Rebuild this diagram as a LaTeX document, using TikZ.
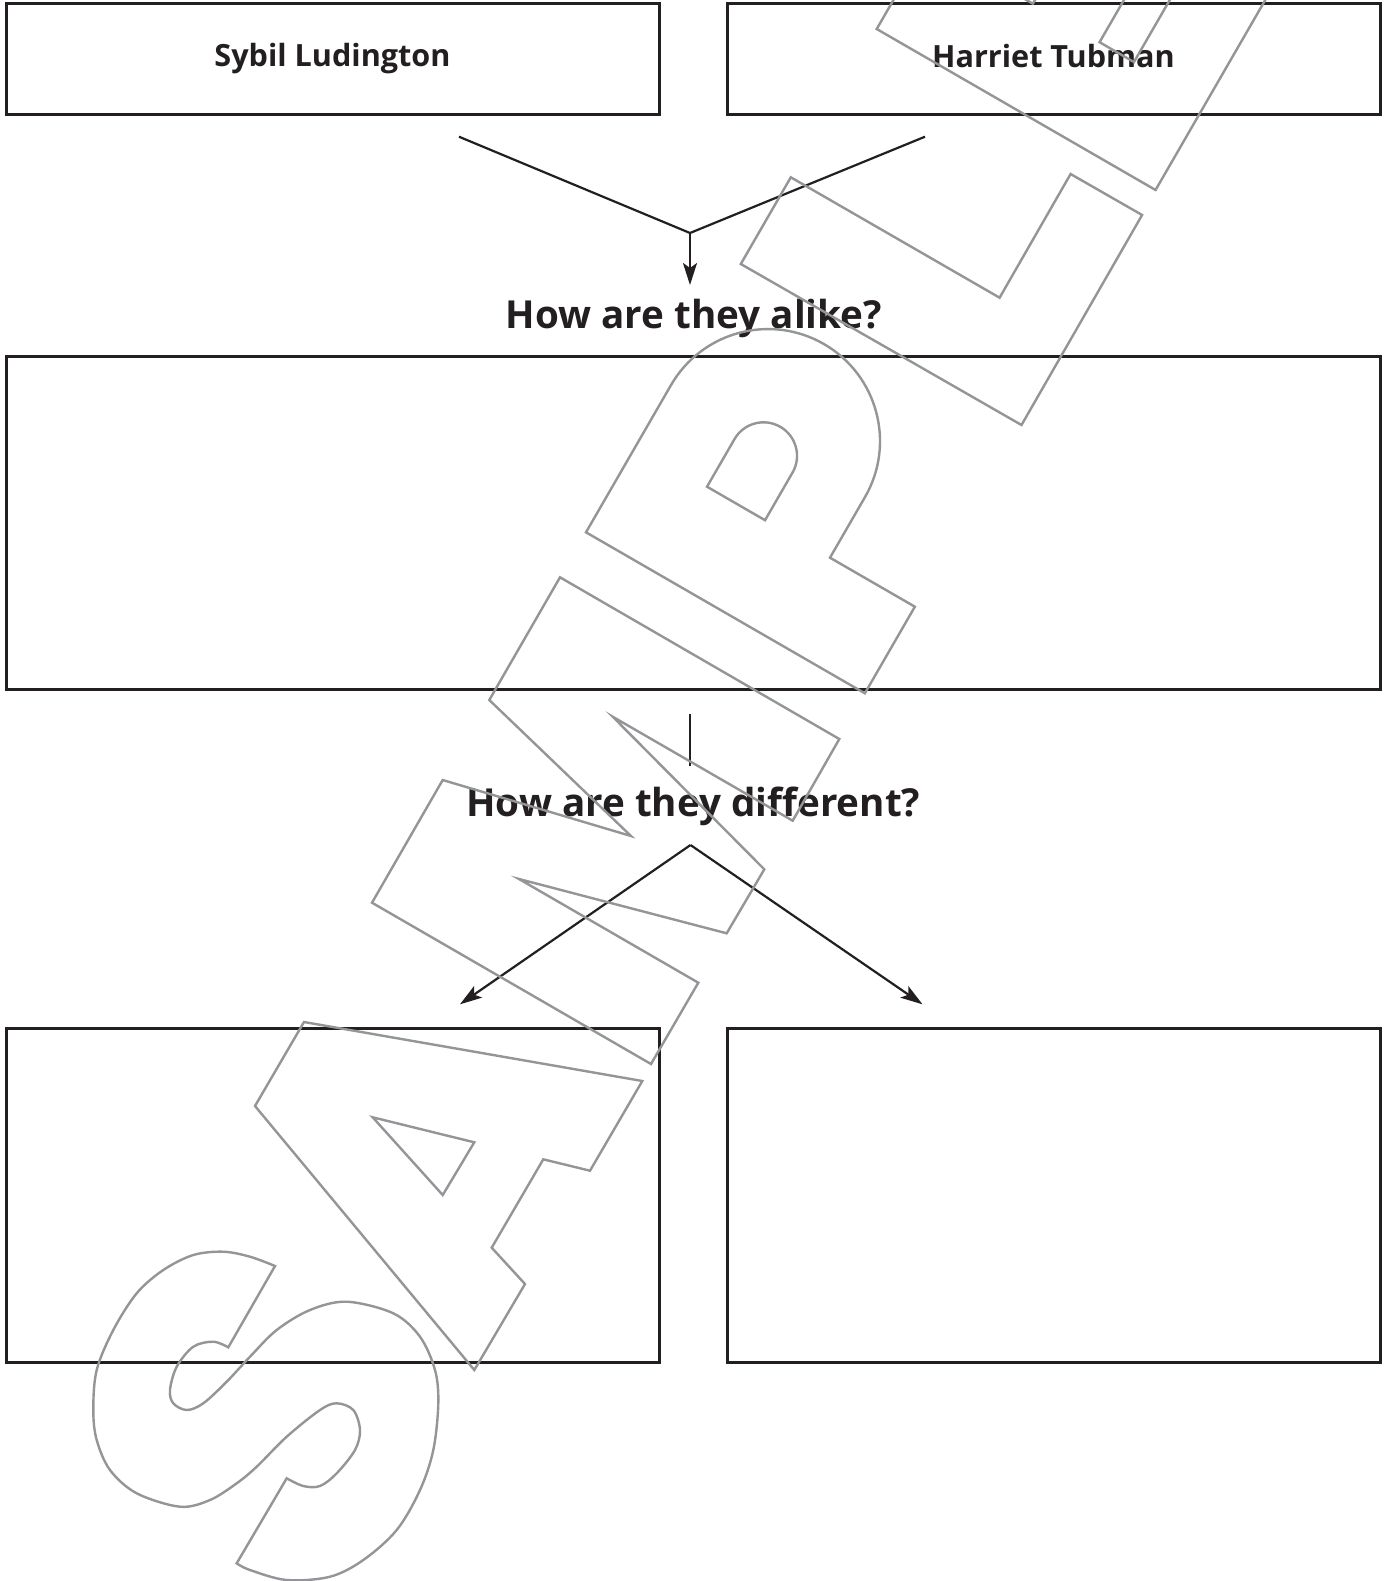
\documentclass[tikz,border=0pt]{standalone}
\usepackage{fontspec}
\setmainfont{Open Sans}
\usetikzlibrary{arrows.meta}
\definecolor{ink}{HTML}{231F20}
\definecolor{wm}{HTML}{939598}
\begin{document}
\begin{tikzpicture}[x=0.5pt,y=-0.5pt,
  box/.style={draw=ink, line width=1.5pt, inner sep=0pt, outer sep=0pt},
  lab/.style={font=\bfseries\fontsize{15.3}{18}\selectfont, text=ink, anchor=base, inner sep=0pt},
  head/.style={font=\bfseries\fontsize{19.3}{23}\selectfont, text=ink, anchor=base, inner sep=0pt},
  conn/.style={draw=ink, line width=1.1pt},
  arr/.style={conn, -{Stealth[length=11pt, width=7pt, inset=2.5pt]}},
  wmark/.style={draw=wm, line width=1.2pt, line join=miter}]
\fill[white] (0,0) rectangle (1387,1581);
\useasboundingbox (0,0) rectangle (1387,1581);

% boxes
\node[box, minimum width=326.5pt, minimum height=55.25pt] (boxA) at (332.5,58.75) {};
\node[box, minimum width=326.5pt, minimum height=55.25pt] (boxB) at (1053.5,58.75) {};
\node[box, minimum width=687pt, minimum height=166.75pt] (boxC) at (693,522.75) {};
\node[box, minimum width=326.5pt, minimum height=166.85pt] (boxD) at (332.5,1195.15) {};
\node[box, minimum width=326.5pt, minimum height=166.85pt] (boxE) at (1053.5,1195.15) {};

% labels
\node[lab] (sybil) at (332.5,66.5) {Sybil Ludington};
\node[lab] (harriet) at (1053.5,67.5) {Harriet Tubman};
\node[head] (alike) at (694,328) {How are they alike?};
\node[head] (diff) at (693.3,816.7) {How are they different?};

% connectors
\coordinate (l1) at (459,136.7);
\coordinate (r1) at (925,136.7);
\coordinate (j1) at (690,233);
\coordinate (t1) at (690,285);
\draw[conn] (l1) -- (j1) -- (r1);
\draw[arr] (j1) -- (t1);
\coordinate (v1) at (690,714);
\coordinate (v2) at (690,766);
\draw[conn] (v1) -- (v2);
\coordinate (j2) at (690.5,845);
\coordinate (dl) at (460,1004.3);
\coordinate (dr) at (922.5,1004.3);
\draw[arr] (j2) -- (dl);
\draw[arr] (j2) -- (dr);

% watermark SAMPLE
\begin{scope}
\clip (0,0) rectangle (1387,1581);
% S
\draw[wmark] (275,1266) -- (228.3,1347.3)
  -- plot[smooth, tension=0.55] coordinates {(228.3,1347.3) (213.3,1341.7) (193.3,1346.7) (176.7,1366.7) (170,1390) (173.3,1403.3) (186.7,1410) (203.3,1403.3) (226.7,1381.7) (250,1356.7) (276.7,1330) (310,1310) (346.7,1301.7) (393.3,1313.3) (420,1336.7) (435,1370) (438.3,1403.3) (433.3,1450) (420,1490) (396.7,1530) (363.3,1560) (330,1576.7) (286.7,1580) (250,1570) (236.7,1563.3)}
  -- (286.7,1478.3)
  -- plot[smooth, tension=0.55] coordinates {(286.7,1478.3) (303.3,1486) (320,1486) (336.7,1473.3) (355,1450) (360,1430) (353.3,1410) (336.7,1403.3) (320,1410) (286.7,1436.7) (256.7,1466.7) (236.7,1483.3) (210,1500) (180,1506.7) (136.7,1493.3) (110,1470) (96.7,1440) (93.3,1410) (96.7,1370) (113.3,1330) (136.7,1293.3) (163.3,1270) (193.3,1255) (223.3,1251.7) (250,1256.7) (275,1266)}
  -- cycle;
% A
\draw[wmark] (304,1022) -- (642.3,1081) -- (590,1170.7) -- (543.3,1159.3) -- (491.7,1247.7) -- (525,1284) -- (474.3,1370) -- (255,1106) -- cycle;
\draw[wmark] (372.7,1117.3) -- (474.3,1142.3) -- (442.7,1195) -- cycle;
% M
\draw[wmark] (560,577.3) -- (839.3,739) -- (792.7,820.7) -- (612.7,716.7) -- (764.3,869.3) -- (726.7,933.3) -- (519,879) -- (698.3,982.7) -- (651,1064) -- (372,902.7) -- (442.7,780) -- (631,836) -- (489.3,700) -- cycle;
% P
\begin{scope}[shift={(586,532.3)}, rotate=60]
\draw[wmark] (0,0) -- (170,0) arc[start angle=-90, end angle=90, radius=112] -- (100,224) -- (100,322) -- (0,322) -- cycle;
\draw[wmark] (100,82) -- (155,82) arc[start angle=-90, end angle=90, radius=33.5] -- (100,149) -- cycle;
\end{scope}
% L
\draw[wmark] (790.8,177.3) -- (999.6,297.7) -- (1070.6,174) -- (1142.1,215) -- (1021.5,425) -- (740.8,264) -- cycle;
% E
\begin{scope}[shift={(876.7,29)}, rotate=60]
\draw[wmark] (0,0) -- (230,0) -- (230,82) -- (100,82) -- (100,122.6) -- (210,122.6) -- (210,199.6) -- (100,199.6) -- (100,239.3) -- (240,239.3) -- (240,322) -- (0,322) -- cycle;
\end{scope}
\end{scope}
\end{tikzpicture}
\end{document}
